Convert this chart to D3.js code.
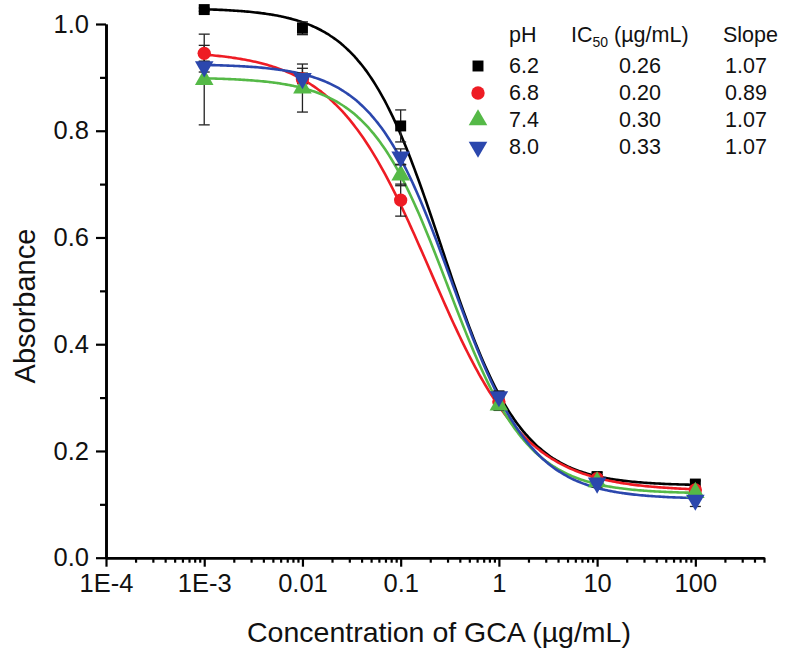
<!DOCTYPE html>
<html>
<head>
<meta charset="utf-8">
<script src="https://cdn.jsdelivr.net/npm/d3@7/dist/d3.min.js"></script>
<style>
  body { margin: 0; background: #fff; }
  svg { display: block; font-family: Arial, "Liberation Sans", Helvetica, sans-serif; }
</style>
</head>
<body>
<div id="chart"></div>
<script>
const concentrations = [0.001, 0.01, 0.1, 1, 10, 100];

const phLabels = ['6.2', '6.8', '7.4', '8.0'];
const ic50Labels = ['0.26', '0.20', '0.30', '0.33'];
const slopeLabels = ['1.07', '0.89', '1.07', '1.07'];

const absorbance62 = [1.027, 0.992, 0.809, 0.302, 0.152, 0.138];
const absorbance68 = [0.945, 0.897, 0.670, 0.292, 0.148, 0.127];
const absorbance74 = [0.896, 0.880, 0.717, 0.286, 0.142, 0.122];
const absorbance80 = [0.920, 0.898, 0.751, 0.302, 0.140, 0.108];

const error62 = [0.003, 0.012, 0.030, 0.010, 0.008, 0.006];
const error68 = [0.015, 0.020, 0.030, 0.010, 0.008, 0.006];
const error74 = [0.085, 0.045, 0.020, 0.010, 0.008, 0.006];
const error80 = [0.010, 0.010, 0.015, 0.010, 0.008, 0.012];

// fitted four-parameter logistic: top, bottom, IC50, slope
const fitTop = [1.03, 0.95, 0.90, 0.925];
const fitBottom = [0.135, 0.125, 0.12, 0.11];
const fitIc50 = [0.26, 0.20, 0.30, 0.33];
const fitSlope = [1.07, 0.89, 1.07, 1.07];

const xMajorTicks = [1e-4, 1e-3, 1e-2, 1e-1, 1, 10, 100];
const xTickLabels = ['1E-4', '1E-3', '0.01', '0.1', '1', '10', '100'];
const yMajorTicks = [0, 0.2, 0.4, 0.6, 0.8, 1.0];
const yMinorTicks = [0.1, 0.3, 0.5, 0.7, 0.9];

const colors = ['#000000', '#ee1c24', '#55b947', '#2b47ad'];
const symbols = [d3.symbolSquare, d3.symbolCircle, d3.symbolTriangle, 'down'];

const width = 785;
const height = 654;

const series = [absorbance62, absorbance68, absorbance74, absorbance80].map((values, i) => ({
  values,
  errors: [error62, error68, error74, error80][i],
  color: colors[i],
  symbol: symbols[i],
  top: fitTop[i],
  bottom: fitBottom[i],
  ic50: fitIc50[i],
  slope: fitSlope[i]
}));

const svg = d3.select('#chart').append('svg').attr('width', width).attr('height', height);

const x = d3.scaleLog().domain([1e-4, 500]).range([106, 764]);
const y = d3.scaleLinear().domain([0, 1]).range([557.7, 24]);

const xMinorTicks = [];
for (let e = -4; e <= 2; e++) {
  for (let m = 2; m <= 9; m++) {
    const v = m * Math.pow(10, e);
    if (v <= 500) {
      xMinorTicks.push(v);
    }
  }
}

// axes
const xMinor = svg.append('g')
  .attr('transform', `translate(0,${y(0)})`)
  .call(d3.axisBottom(x).tickValues(xMinorTicks).tickSize(5).tickSizeOuter(0).tickFormat(''));
const xMajor = svg.append('g')
  .attr('transform', `translate(0,${y(0)})`)
  .call(d3.axisBottom(x).tickValues(xMajorTicks).tickSize(9).tickSizeOuter(0)
    .tickFormat((d, i) => xTickLabels[i]));

const yMinor = svg.append('g')
  .attr('transform', `translate(${x(1e-4)},0)`)
  .call(d3.axisLeft(y).tickValues(yMinorTicks).tickSize(6).tickSizeOuter(0).tickFormat(''));
const yMajor = svg.append('g')
  .attr('transform', `translate(${x(1e-4)},0)`)
  .call(d3.axisLeft(y).tickValues(yMajorTicks).tickSize(10).tickSizeOuter(0).tickFormat(d3.format('.1f')));

for (const axis of [xMinor, xMajor, yMinor, yMajor]) {
  axis.select('.domain').attr('stroke', '#000').attr('stroke-width', 2.6);
  axis.selectAll('.tick line').attr('stroke', '#000').attr('stroke-width', 2.2);
}
xMajor.selectAll('.tick text')
  .attr('font-size', 25.5).attr('fill', '#111').attr('y', 16).attr('dy', '0.71em');
yMajor.selectAll('.tick text')
  .attr('font-size', 25.5).attr('fill', '#111').attr('x', -17);

svg.append('text')
  .attr('x', (245 + 633) / 2)
  .attr('y', 642)
  .attr('text-anchor', 'middle')
  .attr('font-size', 28.5)
  .attr('fill', '#111')
  .text('Concentration of GCA (µg/mL)');

svg.append('text')
  .attr('transform', `translate(35,306) rotate(-90)`)
  .attr('text-anchor', 'middle')
  .attr('font-size', 29)
  .attr('fill', '#111')
  .text('Absorbance');

// fitted curves
const curveXs = d3.range(-3, 2.001, 0.02).map(e => Math.pow(10, e));
const line = d3.line().x(d => x(d[0])).y(d => y(d[1])).curve(d3.curveMonotoneX);

const markerPath = (s, size) => {
  if (s === 'down') {
    return d3.symbol().type(d3.symbolTriangle).size(size)();
  }
  return d3.symbol().type(s).size(size)();
};

series.forEach(s => {
  const pts = curveXs.map(c => [c, s.bottom + (s.top - s.bottom) / (1 + Math.pow(c / s.ic50, s.slope))]);
  svg.append('path')
    .attr('d', line(pts))
    .attr('fill', 'none')
    .attr('stroke', s.color)
    .attr('stroke-width', 2.6);
});

// error bars
series.forEach(s => {
  const g = svg.append('g').attr('stroke', '#222').attr('stroke-width', 1.3);
  concentrations.forEach((c, i) => {
    const cx = x(c);
    const hi = y(s.values[i] + s.errors[i]);
    const lo = y(s.values[i] - s.errors[i]);
    g.append('line').attr('x1', cx).attr('x2', cx).attr('y1', hi).attr('y2', lo);
    g.append('line').attr('x1', cx - 5.5).attr('x2', cx + 5.5).attr('y1', hi).attr('y2', hi);
    g.append('line').attr('x1', cx - 5.5).attr('x2', cx + 5.5).attr('y1', lo).attr('y2', lo);
  });
});

// markers
const sizeFor = sym => (sym === d3.symbolSquare ? 120 : sym === d3.symbolCircle ? 140 : 150);

series.forEach(s => {
  svg.append('g')
    .selectAll('path')
    .data(concentrations)
    .join('path')
    .attr('d', markerPath(s.symbol, sizeFor(s.symbol)))
    .attr('transform', (c, i) => `translate(${x(c)},${y(s.values[i])})${s.symbol === 'down' ? ' rotate(180)' : ''}`)
    .attr('fill', s.color);
});

// legend table
const legend = svg.append('g').attr('font-size', 21.5).attr('fill', '#111');
const headerY = 42;
const rowY = [73, 100, 127, 154];

legend.append('text').attr('x', 509).attr('y', headerY).text('pH');
const icHead = legend.append('text').attr('x', 571).attr('y', headerY);
icHead.append('tspan').text('IC');
icHead.append('tspan').attr('font-size', 14).attr('dy', 5).text('50');
icHead.append('tspan').attr('dy', -5).text(' (µg/mL)');
legend.append('text').attr('x', 723).attr('y', headerY).text('Slope');

series.forEach((s, i) => {
  legend.append('path')
    .attr('d', markerPath(s.symbol, sizeFor(s.symbol)))
    .attr('transform', `translate(478,${rowY[i] - 7})${s.symbol === 'down' ? ' rotate(180)' : ''}`)
    .attr('fill', s.color);
  legend.append('text').attr('x', 509).attr('y', rowY[i]).text(phLabels[i]);
  legend.append('text').attr('x', 640).attr('y', rowY[i]).attr('text-anchor', 'middle').text(ic50Labels[i]);
  legend.append('text').attr('x', 746).attr('y', rowY[i]).attr('text-anchor', 'middle').text(slopeLabels[i]);
});
</script>
</body>
</html>
